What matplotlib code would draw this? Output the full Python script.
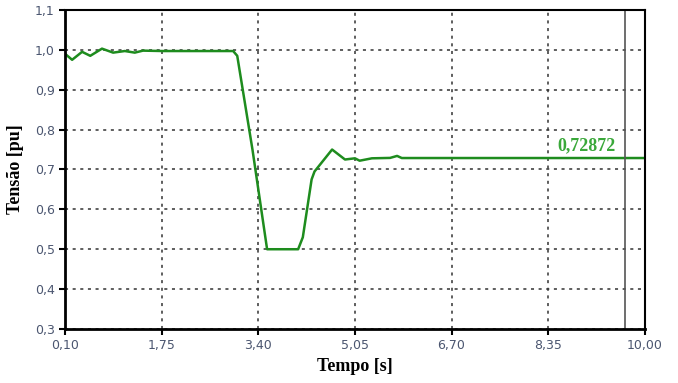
import numpy as np
import matplotlib
matplotlib.use('Agg')
import matplotlib.pyplot as plt
from matplotlib.ticker import FuncFormatter

# voltage curve
tempo = [0.10, 0.22, 0.39, 0.53, 0.73, 0.92, 1.12, 1.29, 1.43, 1.77, 2.20,
         2.97, 3.04, 3.30, 3.55, 4.08, 4.16, 4.31, 4.36, 4.66, 4.88, 5.05,
         5.13, 5.34, 5.65, 5.77, 5.85, 10.00]
tensao = [0.990, 0.975, 0.995, 0.985, 1.003, 0.993, 0.997, 0.993, 0.998,
          0.997, 0.997, 0.997, 0.985, 0.75, 0.50, 0.50, 0.53, 0.675, 0.695,
          0.750, 0.725, 0.728, 0.722, 0.728, 0.729, 0.734, 0.7287, 0.7287]

x_ticks = [0.10, 1.75, 3.40, 5.05, 6.70, 8.35, 10.00]
y_ticks = [0.3, 0.4, 0.5, 0.6, 0.7, 0.8, 0.9, 1.0, 1.1]
cursor_t = 9.67
final_val = 0.72872

fig = plt.figure(figsize=(6.78, 3.83), dpi=100)
ax = fig.add_axes([0.096, 0.141, 0.855, 0.833])

ax.plot(tempo, tensao, color='#1e8c1e', linewidth=1.8)
ax.axvline(cursor_t, color='#555555', linewidth=1.2)
ax.text(8.50, final_val + 0.010, '0,72872', color='#3aa83a',
        fontsize=13, fontweight='bold', family='Liberation Serif',
        ha='left', va='bottom')

ax.set_xlim(0.10, 10.00)
ax.set_ylim(0.3, 1.1)
ax.set_xticks(x_ticks)
ax.set_yticks(y_ticks)
ax.xaxis.set_major_formatter(FuncFormatter(lambda v, p: f'{v:.2f}'.replace('.', ',')))
ax.yaxis.set_major_formatter(FuncFormatter(lambda v, p: f'{v:.1f}'.replace('.', ',')))
ax.tick_params(labelsize=9, labelcolor='#4b5670', length=4, width=1.5, direction='out')

ax.grid(True, color='#333333', linestyle=(0, (2, 3)), linewidth=1.1)
ax.set_axisbelow(True)
for side in ['left', 'bottom']:
    ax.spines[side].set_linewidth(2)
for side in ['top', 'right']:
    ax.spines[side].set_linewidth(1.5)

ax.set_xlabel('Tempo [s]', fontsize=13, fontweight='bold', family='Liberation Serif', labelpad=4)
ax.set_ylabel('Tensão [pu]', fontsize=13, fontweight='bold', family='Liberation Serif', labelpad=8)

fig.savefig('out.png', dpi=100)
